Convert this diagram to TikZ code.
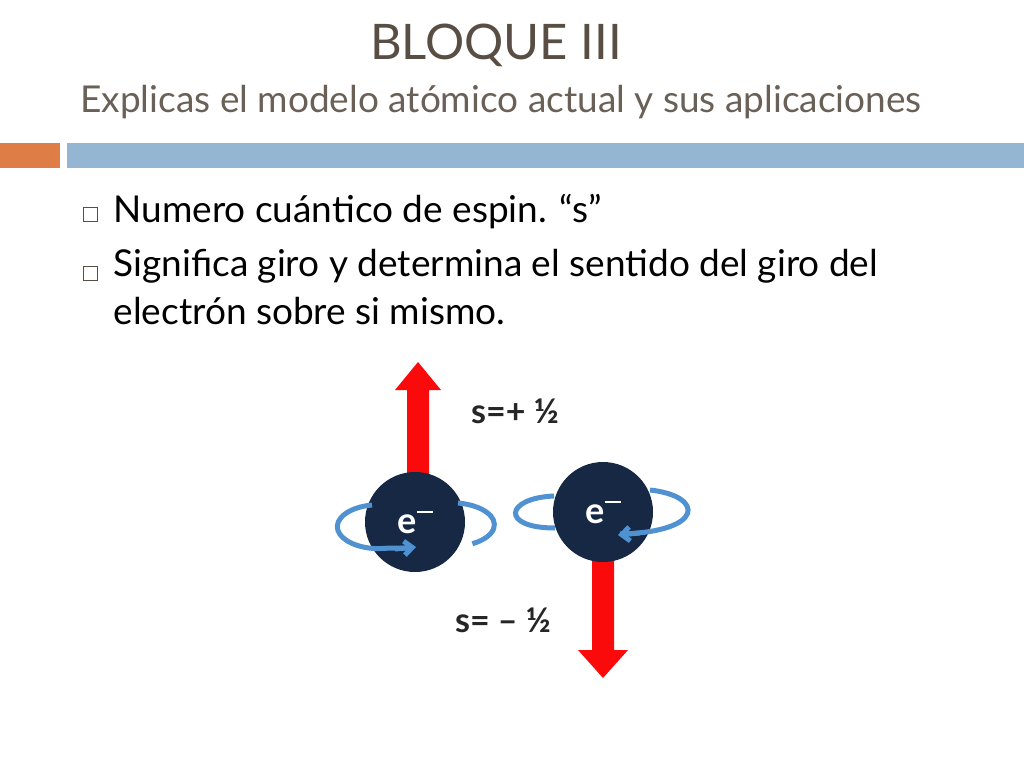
\documentclass[tikz,border=0pt]{standalone}
\usepackage{fontspec}
\setmainfont{Lato}
\usetikzlibrary{arrows.meta}
\definecolor{titlegray}{RGB}{88,78,68}
\definecolor{barorange}{RGB}{222,126,70}
\definecolor{barblue}{RGB}{148,182,210}
\definecolor{enavy}{RGB}{22,40,68}
\definecolor{spinblue}{RGB}{80,145,210}
\definecolor{spinred}{RGB}{250,10,10}
\tikzset{%
  electron/.style={circle, fill=enavy, minimum size=100pt, inner sep=0pt, text=white, font=\fontsize{36}{36}\selectfont\bfseries},
  orbit/.style={draw=spinblue, line width=5pt},
  spinarrow/.style={fill=spinred, draw=none},
  bullettext/.style={anchor=west, text=black, font=\fontsize{37}{48}\selectfont, align=left},
  bulletbox/.style={draw=titlegray, line width=0.8pt, minimum size=14pt, inner sep=0pt},
  spinlabel/.style={font=\fontsize{34}{34}\selectfont\bfseries, text=black!85},
}
\begin{document}
\begin{tikzpicture}[x=1pt,y=-1pt]
  \useasboundingbox (0,0) rectangle (1024,768);
  % title
  \node (title) [text=titlegray, font=\fontsize{49}{49}\selectfont] at (496,45) {BLOQUE III};
  \node (subtitle) [text=titlegray!90, font=\fontsize{37}{37}\selectfont] at (501,102) {Explicas el modelo atómico actual y sus aplicaciones};
  \fill [barorange] (0,143) rectangle (60,168);
  \fill [barblue] (67,143) rectangle (1024,168);
  % bullets
  \node (b1) [bulletbox] at (90,214) {};
  \node (b2) [bulletbox] at (90,273) {};
  \node (t1) [bullettext] at (110,212) {Numero cuántico de espin. “s”};
  \node (t2) [bullettext, anchor=north west] at (110,246) {Significa giro y determina el sentido del giro del\\electrón sobre si mismo.};
  % spin up arrow
  \fill [spinarrow] (407,478) -- (407,390) -- (395,390) -- (418,362) -- (441,390) -- (429,390) -- (429,478) -- cycle;
  % spin down arrow
  \fill [spinarrow] (592,552) -- (592,650) -- (578,650) -- (603,678) -- (628,650) -- (614,650) -- (614,552) -- cycle;
  % electrons
  \node (e1) [electron] at (415,522) {e\raisebox{0.55em}{\rule{0.45em}{2.5pt}}};
  \node (e2) [electron] at (603,512) {e\raisebox{0.55em}{\rule{0.45em}{2.5pt}}};
  % orbit of first electron
  \draw [orbit] (372,505) arc[start angle=100, end angle=270, x radius=42pt, y radius=22pt]
    .. controls (385,548) and (400,548) .. (412,548);
  \draw [orbit, -{Straight Barb[length=8pt,width=14pt]}] (395,549) -- (416,547);
  \draw [orbit] (458,503) arc[start angle=80, end angle=-60, x radius=44pt, y radius=22pt];
  % orbit of second electron
  \draw [orbit] (554,496) .. controls (505,498) and (500,528) .. (555,528);
  \draw [orbit] (650,490) .. controls (705,496) and (705,532) .. (620,534);
  \draw [orbit, -{Straight Barb[length=8pt,width=14pt]}] (640,533) -- (618,535);
  % labels
  \node (up) [spinlabel] at (515,411) {s=+ ½};
  \node (down) [spinlabel] at (503,620) {s= – ½};
\end{tikzpicture}
\end{document}
